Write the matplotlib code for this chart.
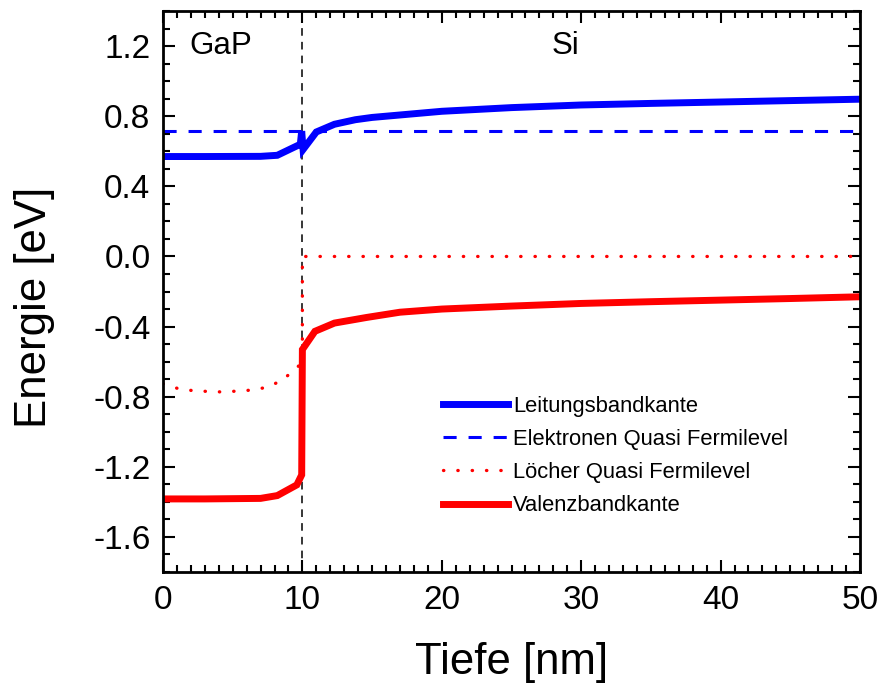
import matplotlib.pyplot as plt
from matplotlib.ticker import MultipleLocator

plt.rcParams['font.family'] = ['Liberation Sans', 'DejaVu Sans']

# Leitungsbandkante
x_lb = [0, 3, 7, 8.2, 9.85, 9.95, 10.05, 11.0, 12.3, 13.8, 15, 17, 20, 25, 30, 35, 40, 45, 50]
e_lb = [0.57, 0.57, 0.571, 0.577, 0.64, 0.715, 0.61, 0.71, 0.754, 0.78, 0.793, 0.807, 0.828,
        0.849, 0.864, 0.873, 0.881, 0.889, 0.897]

# Elektronen Quasi Fermilevel
x_efn = [0, 50]
e_efn = [0.715, 0.715]

# Löcher Quasi Fermilevel
x_efp = [0, 1.1, 2.2, 3.25, 4.3, 5.3, 6.4, 7.4, 8.5, 9.6, 10.0, 10.0, 50]
e_efp = [-0.726, -0.754, -0.766, -0.77, -0.773, -0.768, -0.762, -0.747, -0.709, -0.636, -0.6, 0.0, 0.0]

# Valenzbandkante
x_vb = [0, 3, 7, 8.2, 9.6, 9.95, 10.0, 10.9, 12.3, 14.6, 17, 20, 25, 30, 35, 40, 45, 50]
e_vb = [-1.383, -1.383, -1.38, -1.364, -1.303, -1.246, -0.531, -0.427, -0.38, -0.348, -0.318,
        -0.3, -0.283, -0.268, -0.258, -0.249, -0.24, -0.23]

labels = ['Leitungsbandkante', 'Elektronen Quasi Fermilevel', 'Löcher Quasi Fermilevel', 'Valenzbandkante']
interface = 10

fig, ax = plt.subplots(figsize=(8.8, 6.84), dpi=100)
fig.subplots_adjust(left=0.1852, right=0.9773, top=0.9839, bottom=0.1637)

# Grenzflaeche GaP / Si
ax.axvline(interface, color='black', lw=1.1, linestyle=(0, (5, 4)), zorder=1)

ax.plot(x_lb, e_lb, color='#0000ff', lw=5, label=labels[0], solid_joinstyle='miter')
ax.plot(x_efn, e_efn, color='#0000ff', lw=2.2, linestyle=(0, (4.3, 3.9)), label=labels[1])
ax.plot(x_efp, e_efp, color='#ff0000', lw=2.4, linestyle=(0, (0.1, 4.2)),
        dash_capstyle='round', label=labels[2])
ax.plot(x_vb, e_vb, color='#ff0000', lw=5, label=labels[3], solid_joinstyle='miter')

ax.text(4.16, 1.154, 'GaP', fontsize=22.5, ha='center', va='baseline')
ax.text(28.84, 1.154, 'Si', fontsize=22.5, ha='center', va='baseline')

ax.set_xlim(0, 50)
ax.set_ylim(-1.8, 1.4)
ax.xaxis.set_major_locator(MultipleLocator(10))
ax.xaxis.set_minor_locator(MultipleLocator(1))
ax.yaxis.set_major_locator(MultipleLocator(0.4))
ax.yaxis.set_minor_locator(MultipleLocator(0.1))
ax.yaxis.set_major_formatter(lambda v, p: f'{v:.1f}')

ax.tick_params(which='both', direction='in', top=True, right=True, width=1.5, labelsize=24)
ax.tick_params(which='major', length=8.6, pad=9)
ax.tick_params(which='minor', length=5)
for s in ax.spines.values():
    s.set_linewidth(2)

ax.set_xlabel('Tiefe [nm]', fontsize=31.5)
ax.set_ylabel('Energie [eV]', fontsize=31.5)
ax.xaxis.set_label_coords(0.5, -0.125)
ax.yaxis.set_label_coords(-0.155, 0.472)

ax.legend(loc='upper left', bbox_to_anchor=(0.4017, 0.3137), frameon=False, fontsize=15.8,
          handlelength=2.97, handletextpad=0.23, labelspacing=0.55, borderpad=0, borderaxespad=0)

fig.savefig('out.png', dpi=100)
